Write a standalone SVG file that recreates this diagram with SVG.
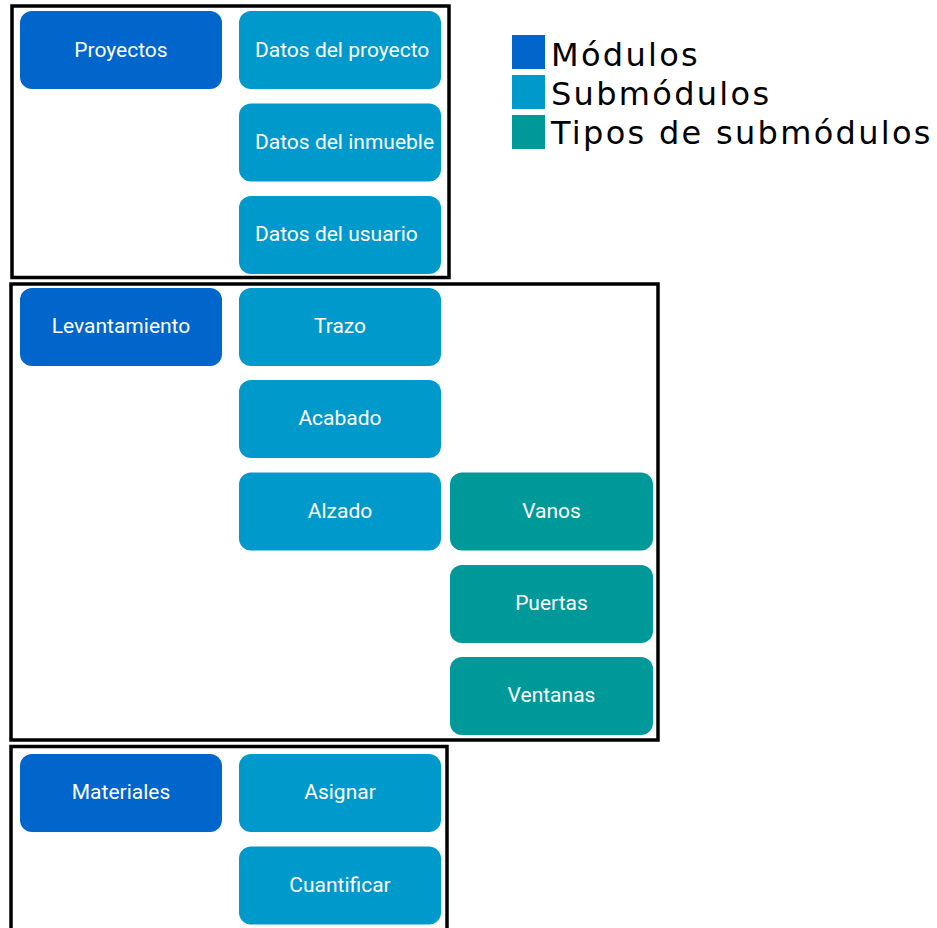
<svg xmlns="http://www.w3.org/2000/svg" width="937" height="928" viewBox="0 0 937 928">
<style>
.frame{fill:none;stroke:#000;stroke-width:3.5}
.mod{fill:#0066cc}
.sub{fill:#0099cc}
.typ{fill:#009999}
.lbl{font-family:Roboto,"Liberation Sans",sans-serif;font-size:21px;fill:#fff;text-anchor:middle}
.lbl.l{text-anchor:start}
.leg{font-family:"DejaVu Sans",Verdana,sans-serif;font-size:32px;fill:#000;letter-spacing:2.3px}
</style>
<rect width="937" height="928" fill="#fff"/>
<g id="frames">
<rect class="frame" x="12" y="6" width="437" height="271.5"/>
<rect class="frame" x="11" y="284" width="647" height="456"/>
<rect class="frame" x="11" y="746.5" width="436" height="200"/>
</g>
<g id="connectors"></g>
<g id="proyectos"><rect class="mod" x="20" y="11" width="202" height="78" rx="12"/><text class="lbl" x="121" y="57">Proyectos</text></g>
<g id="datos-proyecto"><rect class="sub" x="239" y="11" width="202" height="78" rx="12"/><text class="lbl l" x="255" y="57">Datos del proyecto</text></g>
<g id="datos-inmueble"><rect class="sub" x="239" y="103.5" width="202" height="78" rx="12"/><text class="lbl l" x="255" y="148.5">Datos del inmueble</text></g>
<g id="datos-usuario"><rect class="sub" x="239" y="196" width="202" height="78" rx="12"/><text class="lbl l" x="255" y="241">Datos del usuario</text></g>
<g id="levantamiento"><rect class="mod" x="20" y="288" width="202" height="78" rx="12"/><text class="lbl" x="121" y="333">Levantamiento</text></g>
<g id="trazo"><rect class="sub" x="239" y="288" width="202" height="78" rx="12"/><text class="lbl" x="340" y="333">Trazo</text></g>
<g id="acabado"><rect class="sub" x="239" y="380" width="202" height="78" rx="12"/><text class="lbl" x="340" y="425">Acabado</text></g>
<g id="alzado"><rect class="sub" x="239" y="472.5" width="202" height="78" rx="12"/><text class="lbl" x="340" y="517.5">Alzado</text></g>
<g id="vanos"><rect class="typ" x="450" y="472.5" width="203" height="78" rx="12"/><text class="lbl" x="551.5" y="517.5">Vanos</text></g>
<g id="puertas"><rect class="typ" x="450" y="565" width="203" height="78" rx="12"/><text class="lbl" x="551.5" y="610">Puertas</text></g>
<g id="ventanas"><rect class="typ" x="450" y="657" width="203" height="78" rx="12"/><text class="lbl" x="551.5" y="702">Ventanas</text></g>
<g id="materiales"><rect class="mod" x="20" y="754" width="202" height="78" rx="12"/><text class="lbl" x="121" y="799">Materiales</text></g>
<g id="asignar"><rect class="sub" x="239" y="754" width="202" height="78" rx="12"/><text class="lbl" x="340" y="799">Asignar</text></g>
<g id="cuantificar"><rect class="sub" x="239" y="846.5" width="202" height="78" rx="12"/><text class="lbl" x="340" y="891.5">Cuantificar</text></g>
<g id="legend">
<rect class="mod" x="512" y="35" width="33" height="34"/>
<rect class="sub" x="512" y="75" width="33" height="34"/>
<rect class="typ" x="512" y="115" width="33" height="34"/>
<text class="leg" x="551" y="66">Módulos</text>
<text class="leg" x="551" y="105">Submódulos</text>
<text class="leg" x="551" y="144">Tipos de submódulos</text>
</g>
</svg>
